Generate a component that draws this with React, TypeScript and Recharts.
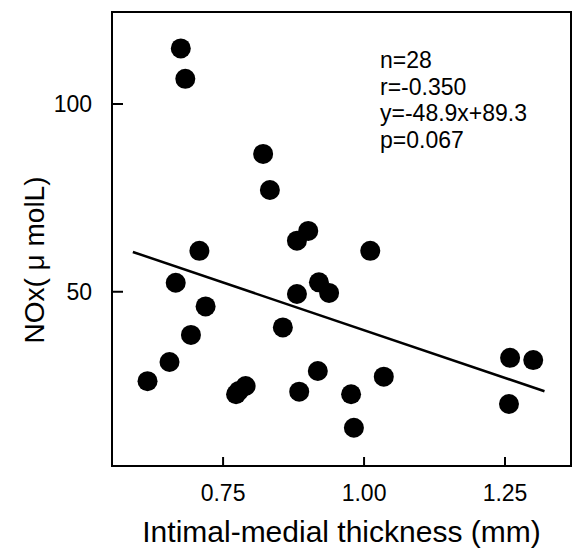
import { ScatterChart, Scatter, XAxis, YAxis, ReferenceLine, ReferenceArea } from 'recharts';

// intimal-medial thickness (mm) and NOx (umol/L) for each subject
const imtValues = [
    0.675, 0.683, 0.821, 0.833, 0.901, 0.881, 0.708, 1.011, 0.666, 0.920,
    0.938, 0.881, 0.719, 0.856, 0.693, 0.655, 0.616, 0.773, 0.790, 0.778,
    0.885, 0.918, 0.977, 0.982, 1.035, 1.259, 1.300, 1.257
];
const noxValues = [
    114.8, 106.7, 86.7, 77.1, 66.2, 63.6, 60.9, 60.9, 52.4, 52.5,
    49.7, 49.4, 46.1, 40.5, 38.5, 31.3, 26.2, 22.7, 24.9, 23.6,
    23.4, 28.9, 22.7, 13.8, 27.4, 32.4, 31.8, 20.1
];

const xTicks = [0.75, 1.0, 1.25];
const yTicks = [50, 100];
const xDomain = [0.553, 1.367];
const yDomain = [3.6, 124.5];

// ends of the regression line as drawn
const fitLine = [
    { x: 0.59, y: 60.6 },
    { x: 1.32, y: 23.5 }
];

const statLines = ['n=28', 'r=-0.350', 'y=-48.9x+89.3', 'p=0.067'];

const points = imtValues.map((x, i) => ({ x, y: noxValues[i] }));

const FONT = '"Liberation Sans", Arial, sans-serif';
const X_MARGIN = 19;
const Y_MARGIN = 20;

const Dot = (props: any) => <circle cx={props.cx} cy={props.cy} r={10} fill="#000" />;

// ticks point into the plot, so draw them by hand
const XTick = (props: any) => {
    const axisY = props.y - X_MARGIN;
    return (
        <g>
            <line x1={props.x} x2={props.x} y1={axisY} y2={axisY - 9} stroke="#000" strokeWidth={2} />
            <text x={props.x} y={props.y} dy="0.71em" textAnchor="middle" fontSize={23} fontFamily={FONT} fill="#000">
                {props.payload.value.toFixed(2)}
            </text>
        </g>
    );
};

const YTick = (props: any) => {
    const axisX = props.x + Y_MARGIN;
    return (
        <g>
            <line x1={axisX} x2={axisX + 11} y1={props.y} y2={props.y} stroke="#000" strokeWidth={2} />
            <text x={props.x} y={props.y} dy="0.355em" textAnchor="end" fontSize={23} fontFamily={FONT} fill="#000">
                {props.payload.value}
            </text>
        </g>
    );
};

function Stats() {
    return (
        <text x={380} y={68} fontSize={23} fontFamily={FONT} fill="#000">
            {statLines.map((s, i) => (
                <tspan key={s} x={380} dy={i === 0 ? 0 : 26.7}>{s}</tspan>
            ))}
        </text>
    );
}

function YLabel() {
    return (
        <text x={44} y={260} transform="rotate(-90 44 260)" textAnchor="middle"
            fontSize={28} fontFamily={FONT} fill="#000">
            NOx( μ molL)
        </text>
    );
}

export default function App() {
    return (
        <div style={{ position: 'absolute', left: 0, top: 0 }}>
            <ScatterChart width={573} height={553} margin={{ top: 12, right: 2, bottom: 0, left: 0 }}
                style={{ fontFamily: FONT }}>
                <XAxis
                    type="number"
                    dataKey="x"
                    domain={xDomain}
                    ticks={xTicks}
                    height={87}
                    tickSize={0}
                    tickMargin={X_MARGIN}
                    tickLine={false}
                    axisLine={{ stroke: '#000', strokeWidth: 2 }}
                    tick={XTick}
                    label={{ value: 'Intimal-medial thickness (mm)', position: 'insideBottom', offset: 11, fill: '#000', fontSize: 30 }}
                />
                <YAxis
                    type="number"
                    dataKey="y"
                    domain={yDomain}
                    ticks={yTicks}
                    width={112}
                    tickSize={0}
                    tickMargin={Y_MARGIN}
                    tickLine={false}
                    axisLine={{ stroke: '#000', strokeWidth: 2 }}
                    tick={YTick}
                />
                <ReferenceArea x1={xDomain[0]} x2={xDomain[1]} y1={yDomain[0]} y2={yDomain[1]}
                    fill="none" stroke="#000" strokeWidth={2} fillOpacity={0} />
                <ReferenceLine segment={fitLine} stroke="#000" strokeWidth={2.5} />
                <Scatter data={points} shape={Dot} isAnimationActive={false} />
                <Stats />
                <YLabel />
            </ScatterChart>
        </div>
    );
}
